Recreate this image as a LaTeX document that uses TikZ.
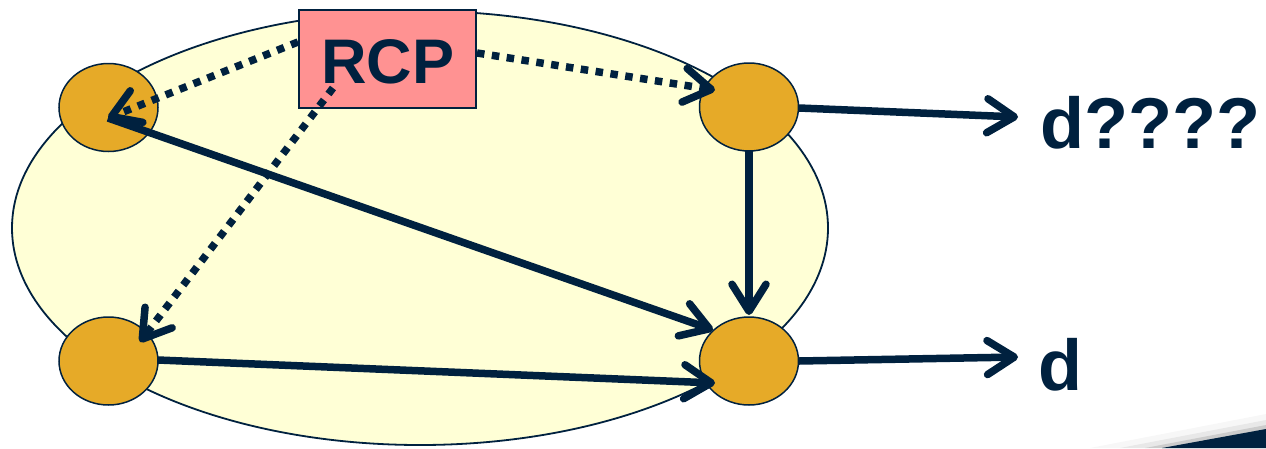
\documentclass[tikz,border=0pt]{standalone}
\usepackage{fontspec}
\setmainfont{Liberation Sans}
\usetikzlibrary{arrows.meta,shapes.geometric}
\definecolor{navy}{HTML}{00213F}
\definecolor{cloud}{HTML}{FFFFD6}
\definecolor{gold}{HTML}{E6AA28}
\definecolor{rose}{HTML}{FF9292}
\begin{document}
\begin{tikzpicture}[x=1pt,y=-1pt,
  router/.style={ellipse,draw=navy,line width=1.5pt,fill=gold,minimum width=99pt,minimum height=88pt,inner sep=0pt},
  link/.style={draw=navy,line width=7.5pt,-{Straight Barb[length=27pt,width=34pt,round]}},
  ctrl/.style={link,dash pattern=on 7.5pt off 7.5pt,line width=7.5pt},
  lbl/.style={font=\bfseries\fontsize{72}{72}\selectfont,text=navy,inner sep=0pt}]
\useasboundingbox (0,0) rectangle (1266,448);
% slide corner decoration
\fill[black,opacity=0.03] (1090,448) -- (1266,414) -- (1266,448) -- cycle;
\fill[black,opacity=0.06] (1120,448) -- (1266,420) -- (1266,448) -- cycle;
\fill[black,opacity=0.12] (1145,448) -- (1266,425) -- (1266,448) -- cycle;
\fill[navy] (1162,448) -- (1266,429) -- (1266,448) -- cycle;
% domain
\node[ellipse,draw=navy,line width=1.8pt,fill=cloud,minimum width=816pt,minimum height=434pt,inner sep=0pt] (domain) at (420,228) {};
% routers
\node[router] (tl) at (108.5,107.5) {};
\node[router] (tr) at (749,107) {};
\node[router] (bl) at (108.5,361) {};
\node[router] (br) at (749,361) {};
% controller
\node[draw=navy,line width=1.5pt,fill=rose,minimum width=177pt,minimum height=98pt,inner sep=0pt] (rcp) at (387.5,59) {};
\node[font=\bfseries\fontsize{63}{63}\selectfont,text=navy,inner sep=0pt,anchor=base] (rcptext) at (388,83) {RCP};
% labels
\node[lbl,anchor=base west] (dq) at (1040,148) {d????};
\node[lbl,anchor=base west] (d) at (1038,390) {d};
% connector end points
\coordinate (tlTip) at (108,118);
\coordinate (trTip) at (715,90);
\coordinate (blTip) at (140,342);
\coordinate (brTopTip) at (749,315);
\coordinate (brDiagTip) at (713,330);
\coordinate (brLeftTip) at (715,383);
\coordinate (rcpL) at (298,42);
\coordinate (rcpR) at (477,53);
\coordinate (rcpB) at (333,88);
\coordinate (trR) at (799,108);
\coordinate (brR) at (799,361);
\coordinate (blR) at (158,360);
\coordinate (trB) at (749,151);
\coordinate (dqTip) at (1018,117);
\coordinate (dTip) at (1018,357);
% solid links
\draw[link] (tlTip) -- (brDiagTip);
\draw[link] (blR) -- (brLeftTip);
\draw[link] (trB) -- (brTopTip);
\draw[link] (trR) -- (dqTip);
\draw[link] (brR) -- (dTip);
% control links
\draw[ctrl] (rcpL) -- (tlTip);
\draw[ctrl] (rcpR) -- (trTip);
\draw[ctrl] (rcpB) -- (blTip);
\end{tikzpicture}
\end{document}
